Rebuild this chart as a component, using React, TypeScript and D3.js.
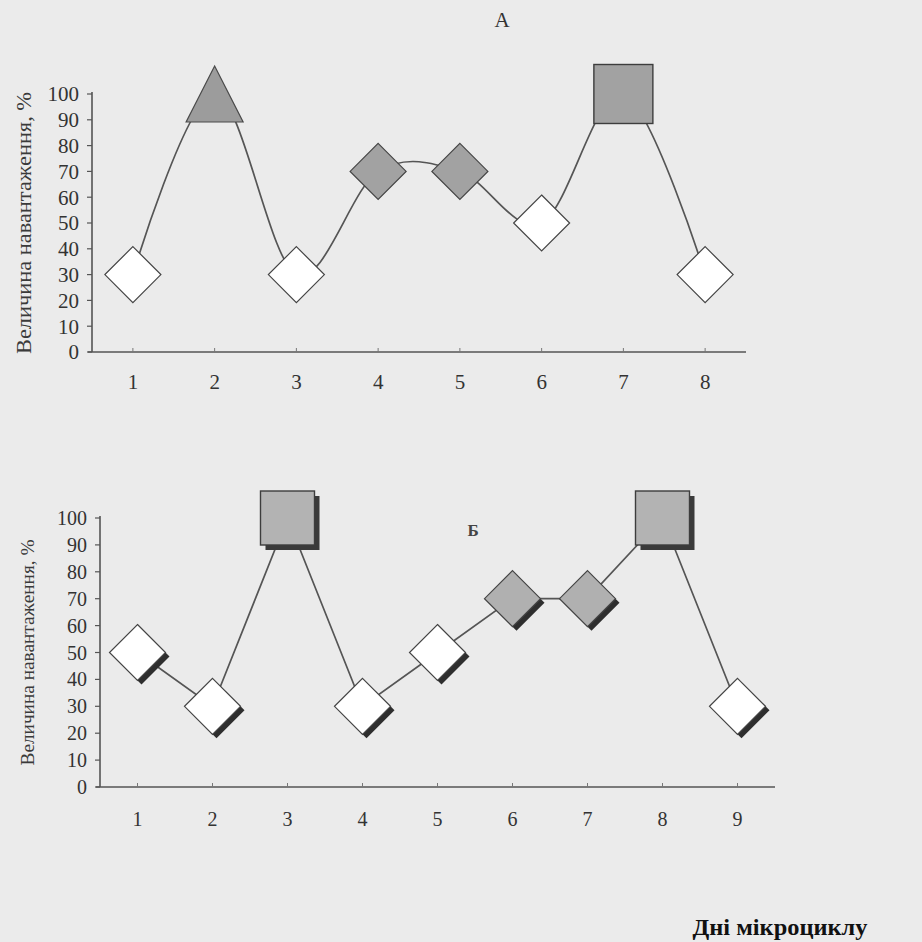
import React from "react";
import * as d3 from "d3";

const daysA = ["1", "2", "3", "4", "5", "6", "7", "8"];
const valuesA = [30, 100, 30, 70, 70, 50, 100, 30];
const markersA = ["diamond", "triangle", "diamond", "diamondGray", "diamondGray", "diamond", "square", "diamond"];

const daysB = ["1", "2", "3", "4", "5", "6", "7", "8", "9"];
const valuesB = [50, 30, 100, 30, 50, 70, 70, 100, 30];
const markersB = ["diamond", "diamond", "square", "diamond", "diamond", "diamondGray", "diamondGray", "square", "diamond"];

const yTicks = [0, 10, 20, 30, 40, 50, 60, 70, 80, 90, 100];
const yTitle = "Величина навантаження, %";
const xTitle = "Дні мікроциклу";
const titleA = "А";
const titleB = "Б";

const W = 922;
const H = 942;
const FONT = "Liberation Serif, Times New Roman, Tinos, DejaVu Serif, serif";
const LINE = "#555";
const BG = "#ebebeb";

function Marker({ kind, x, y, r, shadow }: { kind: string; x: number; y: number; r: number; shadow: boolean }) {
  const off = shadow ? 5 : 0;
  const diamond = (cx: number, cy: number) => `M${cx},${cy - r}L${cx + r},${cy}L${cx},${cy + r}L${cx - r},${cy}Z`;
  if (kind === "square") {
    const s = shadow ? 54 : 59;
    return (
      <g>
        {shadow && <rect x={x - s / 2 + off} y={y - s / 2 + off} width={s} height={s} fill="#3a3a3a" />}
        <rect x={x - s / 2} y={y - s / 2} width={s} height={s} fill={shadow ? "#b3b3b3" : "#a2a2a2"} stroke="#3d3d3d" strokeWidth={1.4} />
      </g>
    );
  }
  if (kind === "triangle") {
    const w = 57, h = 56;
    return <path d={`M${x},${y - h / 2}L${x + w / 2},${y + h / 2}L${x - w / 2},${y + h / 2}Z`} fill="#9c9c9c" stroke="#4a4a4a" strokeWidth={1.2} />;
  }
  const fill = kind === "diamondGray" ? (shadow ? "#b0b0b0" : "#a2a2a2") : "#ffffff";
  return (
    <g>
      {shadow && <path d={diamond(x + 4, y + 4)} fill="#2e2e2e" />}
      <path d={diamond(x, y)} fill={fill} stroke="#444" strokeWidth={1.2} />
    </g>
  );
}

function Panel({
  days, values, markers, x0, x1, yBottom, yTop, smooth, shadow, tickFont, titleFont, titleX, labelY, labelRight, titleLen,
}: any) {
  const x = d3.scaleBand<string>().domain(days).range([x0, x1]);
  const y = d3.scaleLinear().domain([0, 100]).range([yBottom, yTop]);
  const cx = (d: string) => (x(d) as number) + x.bandwidth() / 2;
  const pts: [number, number][] = days.map((d: string, i: number) => [cx(d), y(values[i])]);
  const line = d3.line().curve(smooth ? d3.curveCardinal.tension(0) : d3.curveLinear)(pts) as string;
  const midY = (yBottom + yTop) / 2;
  return (
    <g>
      <line x1={x0} x2={x0} y1={yTop - 2} y2={yBottom} stroke={LINE} strokeWidth={1.6} />
      <line x1={x0 - 4} x2={x1} y1={yBottom} y2={yBottom} stroke={LINE} strokeWidth={1.6} />
      {yTicks.map((t) => (
        <g key={t}>
          <line x1={x0 - 5} x2={x0} y1={y(t)} y2={y(t)} stroke={LINE} strokeWidth={1.2} />
          <text x={labelRight} y={y(t)} dy="0.35em" textAnchor="end" fontFamily={FONT} fontSize={tickFont} fill="#333">{t}</text>
        </g>
      ))}
      {days.map((d: string) => (
        <g key={d}>
          <line x1={cx(d)} x2={cx(d)} y1={yBottom} y2={yBottom - 4} stroke="#777" strokeWidth={1} />
          <text x={cx(d)} y={labelY} textAnchor="middle" fontFamily={FONT} fontSize={tickFont} fill="#333">{d}</text>
        </g>
      ))}
      <text
        transform={`translate(${titleX},${midY}) rotate(-90)`}
        textAnchor="middle"
        dy="0.35em"
        fontFamily={FONT}
        fontSize={titleFont}
        fill="#3a3a3a"
        textLength={titleLen}
        lengthAdjust="spacingAndGlyphs"
      >
        {yTitle}
      </text>
      <path d={line} fill="none" stroke={LINE} strokeWidth={1.7} />
      {days.map((d: string, i: number) => (
        <Marker key={d} kind={markers[i]} x={cx(d)} y={y(values[i])} r={28} shadow={shadow} />
      ))}
    </g>
  );
}

export default function App() {
  return (
    <svg width={W} height={H} style={{ position: "absolute", left: 0, top: 0, display: "block" }}>
      <rect x={0} y={0} width={W} height={H} fill={BG} />
      <Panel
        days={daysA} values={valuesA} markers={markersA}
        x0={92} x1={746} yBottom={352} yTop={94}
        smooth={true} shadow={false}
        tickFont={21} titleFont={21} titleX={24} labelY={389} labelRight={79} titleLen={262}
      />
      <text x={502} y={27} textAnchor="middle" fontFamily={FONT} fontSize={21} fill="#333">{titleA}</text>
      <Panel
        days={daysB} values={valuesB} markers={markersB}
        x0={100} x1={775} yBottom={787} yTop={518}
        smooth={false} shadow={true}
        tickFont={20} titleFont={18} titleX={28} labelY={826} labelRight={87} titleLen={226}
      />
      <text x={473} y={536} textAnchor="middle" fontFamily={FONT} fontSize={17} fontWeight="bold" fill="#444">{titleB}</text>
      <text x={780} y={935} textAnchor="middle" fontFamily={FONT} fontSize={24} fontWeight="bold" fill="#111" textLength={175} lengthAdjust="spacingAndGlyphs">{xTitle}</text>
    </svg>
  );
}
